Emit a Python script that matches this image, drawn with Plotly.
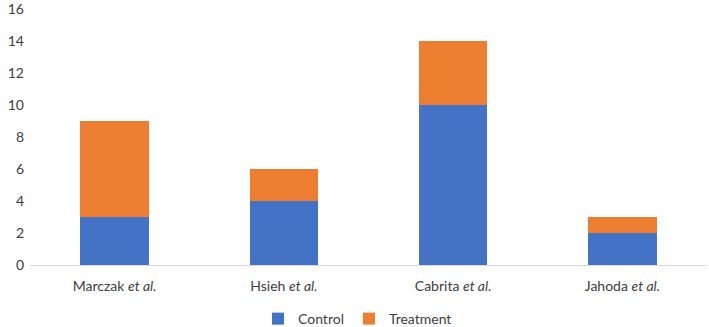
import plotly.graph_objects as go

categories = ["Marczak <i>et al.</i>", "Hsieh <i>et al.</i>", "Cabrita <i>et al.</i>", "Jahoda <i>et al.</i>"]
control = [3, 4, 10, 2]
treatment = [6, 2, 4, 1]
y_ticks = [0, 2, 4, 6, 8, 10, 12, 14, 16]

fig = go.Figure()
fig.add_trace(go.Bar(x=categories, y=control, name="Control", marker=dict(color="#4472C4", line=dict(width=0))))
fig.add_trace(go.Bar(x=categories, y=treatment, name="Treatment", marker=dict(color="#ED7D31", line=dict(width=0))))

fig.update_layout(
    barmode="stack",
    bargap=0.595,
    width=709, height=327,
    margin=dict(l=30, r=2, t=9, b=62, autoexpand=False),
    paper_bgcolor="white", plot_bgcolor="white",
    font=dict(family="Lato, Open Sans, sans-serif", size=14, color="#404040"),
    showlegend=True,
    legend=dict(orientation="h", x=(258 - 30) / 677, xanchor="left", y=-0.211, yanchor="middle",
                traceorder="normal",
                font=dict(size=14, color="#404040"), itemwidth=30, tracegroupgap=0),
    xaxis=dict(showline=True, linecolor="#D9D9D9", linewidth=1, ticks="", showgrid=False,
               tickfont=dict(size=14, color="#404040"), ticklabelstandoff=8),
    yaxis=dict(range=[0, 16.03], tickvals=y_ticks, showgrid=False, zeroline=False, showline=False,
               ticks="", tickfont=dict(size=14, color="#404040"), ticklabelstandoff=5),
)

fig.write_html("out.html", config={"displayModeBar": False},
               post_script="document.body.style.margin='0';document.body.style.overflow='hidden';")
